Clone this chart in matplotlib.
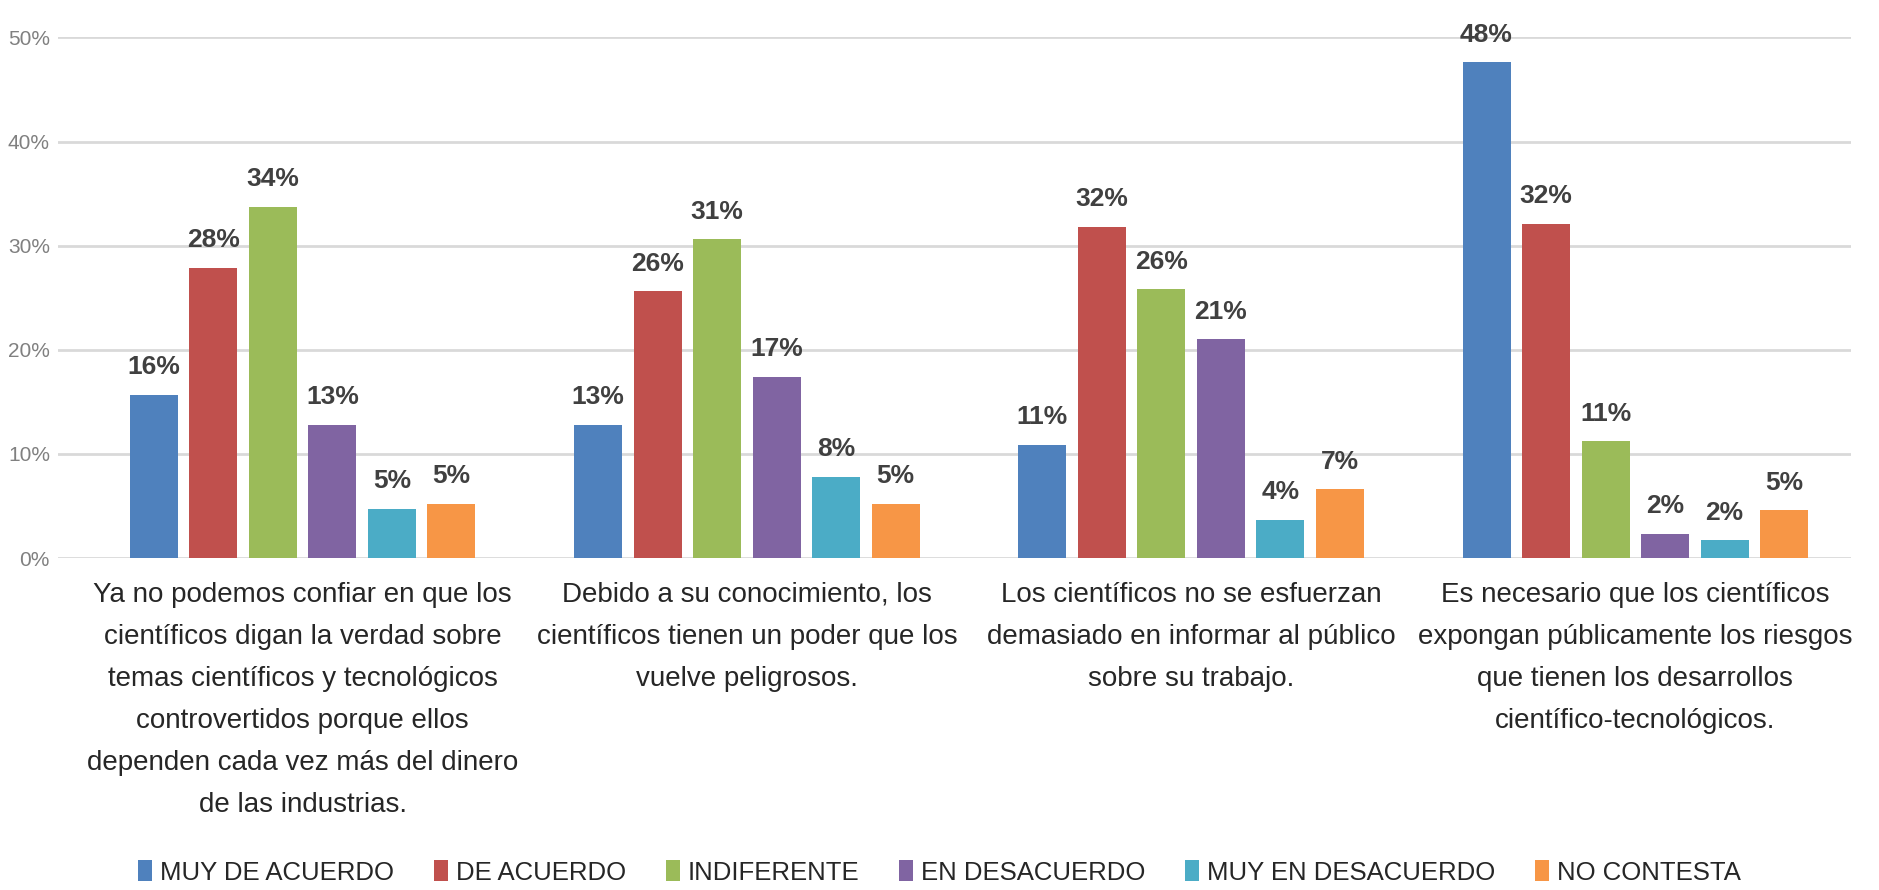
import numpy as np
import matplotlib.pyplot as plt
from matplotlib.ticker import FuncFormatter

plt.rcParams['font.family'] = ['Liberation Sans', 'DejaVu Sans']

categories = [
    "Ya no podemos confiar en que los\ncientíficos digan la verdad sobre\ntemas científicos y tecnológicos\ncontrovertidos porque ellos\ndependen cada vez más del dinero\nde las industrias.",
    "Debido a su conocimiento, los\ncientíficos tienen un poder que los\nvuelve peligrosos.",
    "Los científicos no se esfuerzan\ndemasiado en informar al público\nsobre su trabajo.",
    "Es necesario que los científicos\nexpongan públicamente los riesgos\nque tienen los desarrollos\ncientífico-tecnológicos.",
]
series_names = ["MUY DE ACUERDO", "DE ACUERDO", "INDIFERENTE",
                "EN DESACUERDO", "MUY EN DESACUERDO", "NO CONTESTA"]
muy_de_acuerdo = [15.7, 12.8, 10.9, 47.6]
de_acuerdo = [27.9, 25.6, 31.8, 32.1]
indiferente = [33.7, 30.6, 25.8, 11.2]
en_desacuerdo = [12.8, 17.4, 21.0, 2.3]
muy_en_desacuerdo = [4.7, 7.8, 3.7, 1.7]
no_contesta = [5.2, 5.2, 6.6, 4.6]
colors = ['#4F81BD', '#C0504D', '#9BBB59', '#8064A2', '#4BACC6', '#F79646']

series = [muy_de_acuerdo, de_acuerdo, indiferente, en_desacuerdo,
          muy_en_desacuerdo, no_contesta]

fig = plt.figure(figsize=(18.79, 8.9), dpi=100)
ax = fig.add_axes([0.031, 0.373, 0.954, 0.585])

x = np.arange(len(categories))
step = 0.134
width = 0.108
for i, (vals, name, c) in enumerate(zip(series, series_names, colors)):
    pos = x + (i - 2.5) * step
    bars = ax.bar(pos, vals, width, color=c, label=name, zorder=3)
    for b, v in zip(bars, vals):
        ax.text(b.get_x() + b.get_width() / 2, v + 1.5, f"{v:.0f}%",
                ha='center', va='bottom', fontsize=19, color='#404040',
                fontweight='bold', clip_on=False)

ax.set_ylim(0, 50)
ax.set_xlim(-0.55, 3.485)
ax.set_yticks(np.arange(0, 51, 10))
ax.yaxis.set_major_formatter(FuncFormatter(lambda v, p: f"{v:.0f}%"))
ax.tick_params(axis='y', length=0, labelsize=15, labelcolor='#808080', pad=6)
ax.set_xticks(x)
ax.set_xticklabels(categories, fontsize=20, color='#262626', linespacing=1.8)
ax.tick_params(axis='x', length=0, pad=17)
ax.grid(axis='y', color='#D9D9D9', linewidth=2, zorder=0)
for s in ax.spines.values():
    s.set_visible(False)

fig.legend(loc='lower center', ncol=6, bbox_to_anchor=(0.5, -0.02),
           frameon=False, fontsize=18.5, handlelength=0.55, handleheight=0.9,
           handletextpad=0.3, columnspacing=1.55, labelcolor='#262626')

fig.savefig('out.png', dpi=100, facecolor='white')
